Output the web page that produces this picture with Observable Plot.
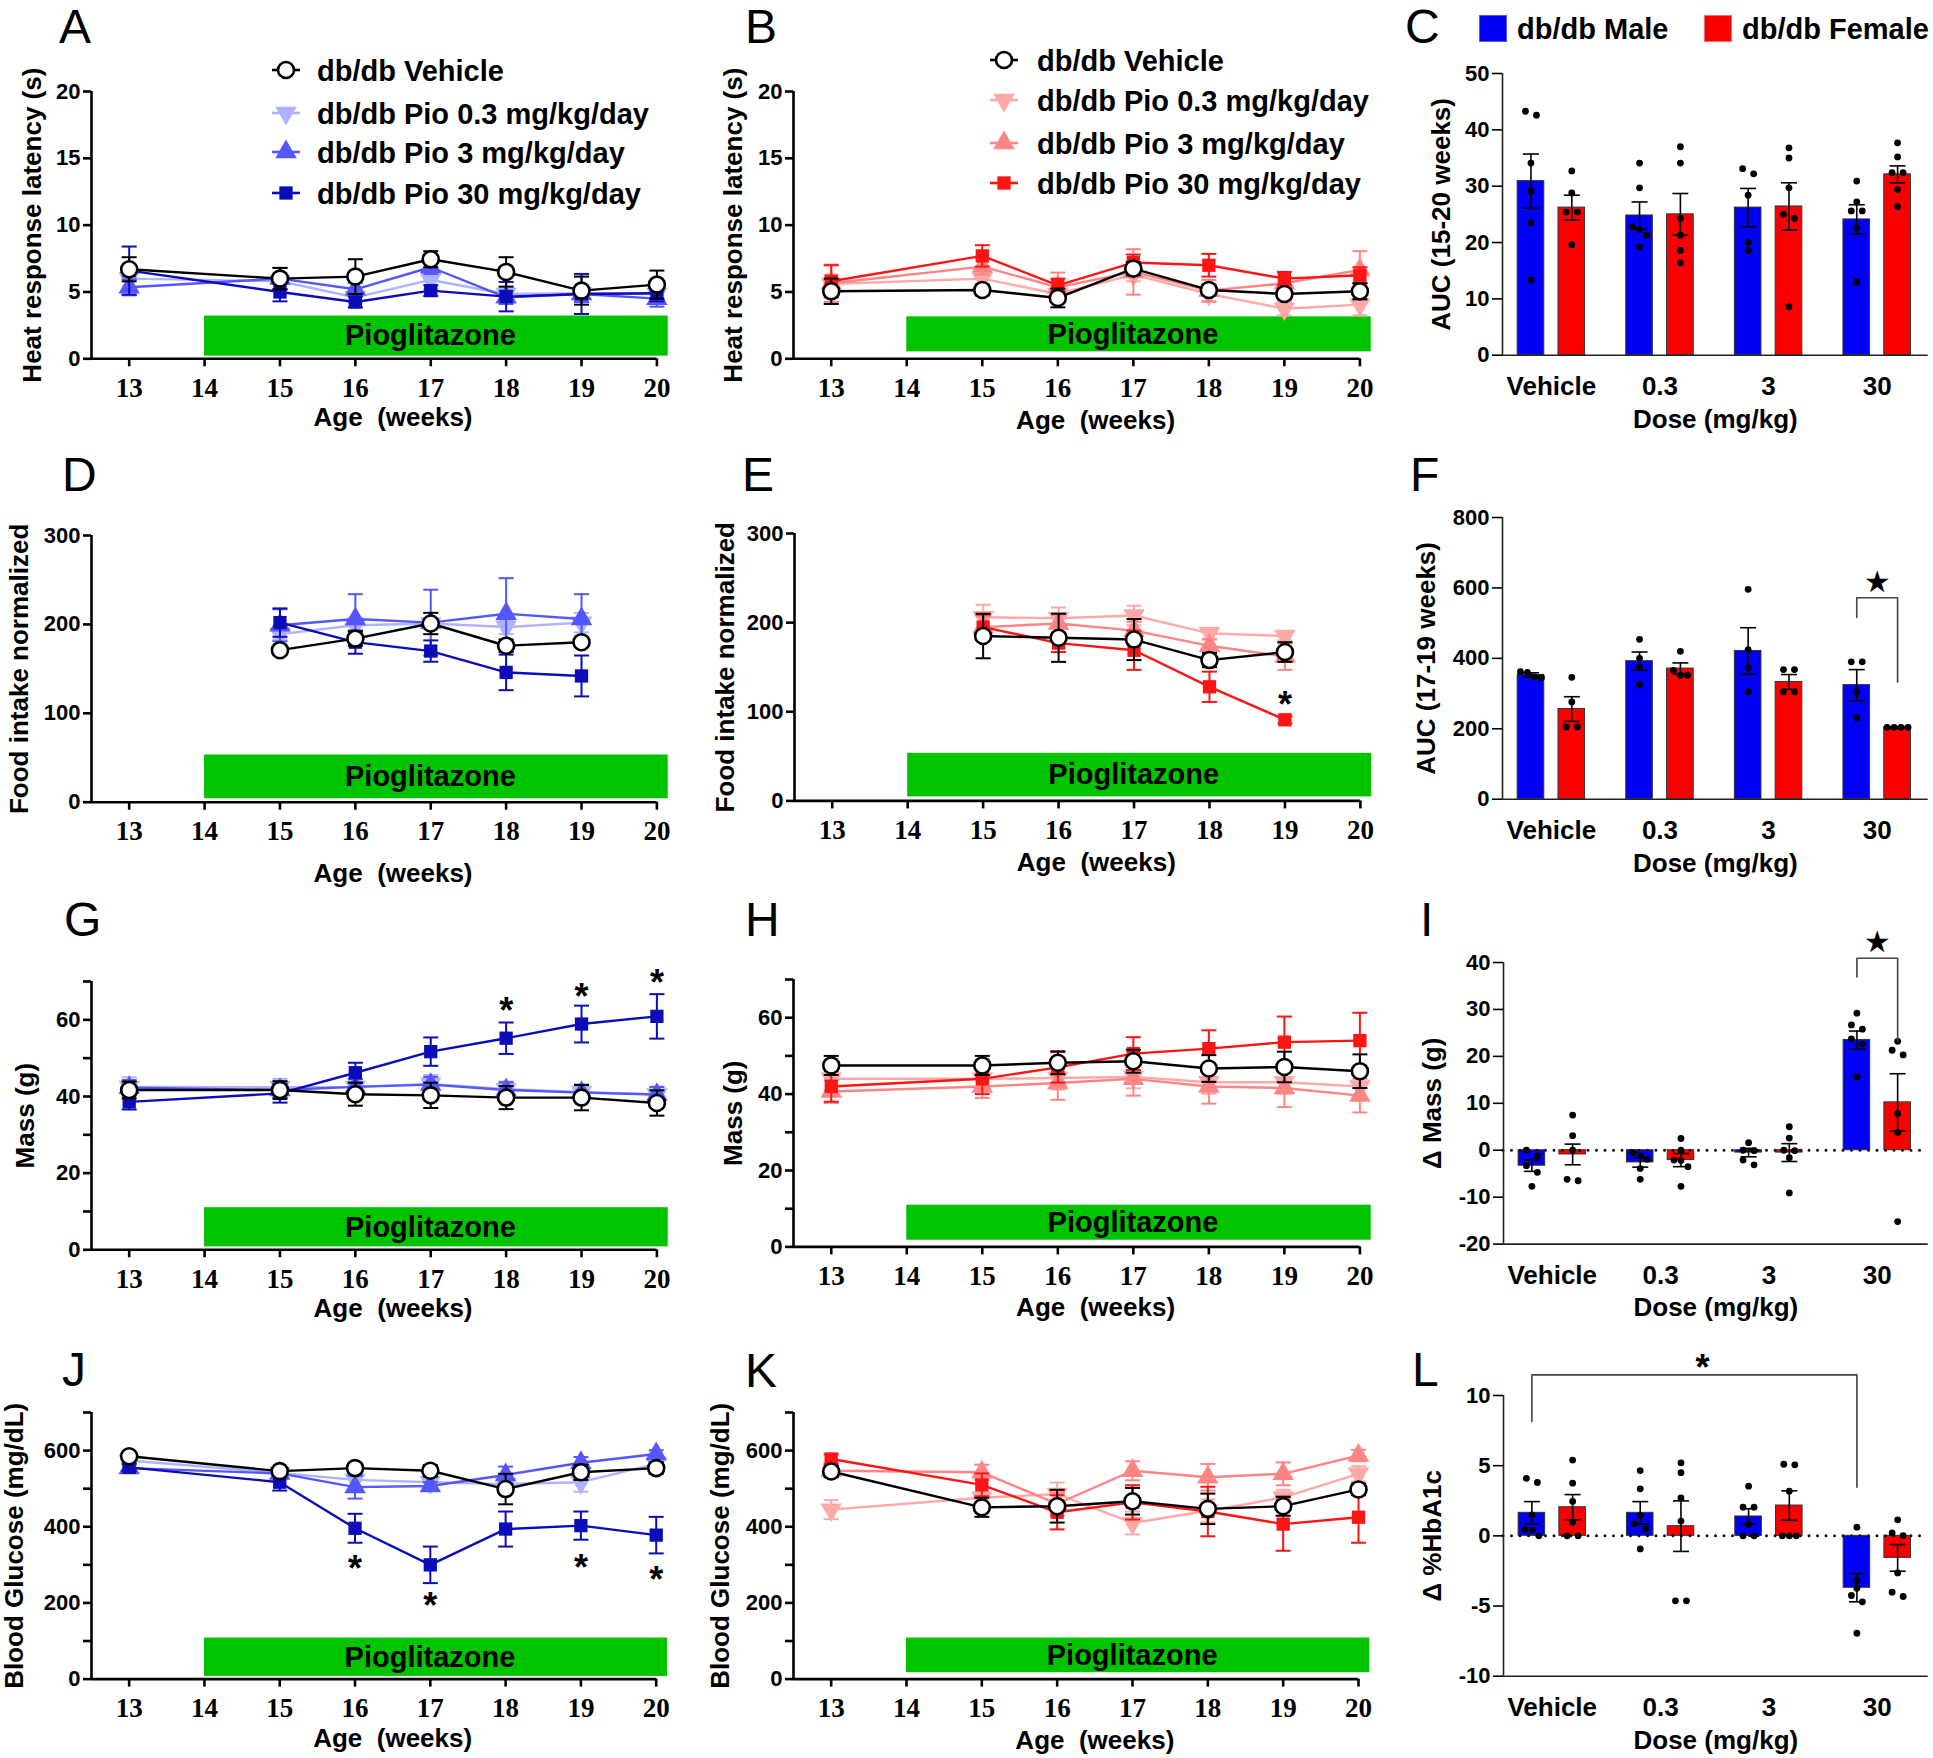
<!DOCTYPE html>
<html><head><meta charset="utf-8">
<script src="https://cdn.jsdelivr.net/npm/d3@7"></script>
<script src="https://cdn.jsdelivr.net/npm/@observablehq/plot@0.6"></script>
<style>
body{margin:0;background:#fff;}
#fig{position:relative;width:1933px;height:1758px;background:#fff;overflow:hidden;font-family:'Liberation Sans',Arial,sans-serif;}
.letter{position:absolute;font-size:48px;line-height:48px;color:#000;font-family:'Liberation Sans',Arial,sans-serif;}
.legtxt{position:absolute;white-space:nowrap;font-weight:bold;line-height:1;color:#000;transform:translateY(-50%);font-family:'Liberation Sans',Arial,sans-serif;}
</style></head><body><div id="fig"></div>
<script>
// ---------------- DATA ----------------
const weeks = [13, 15, 16, 17, 18, 19, 20];
const foodWeeks = [15, 16, 17, 18, 19];
const weekTicks = [13, 14, 15, 16, 17, 18, 19, 20];
const groupNames = ["db/db Vehicle", "db/db Pio 0.3 mg/kg/day", "db/db Pio 3 mg/kg/day", "db/db Pio 30 mg/kg/day"];
const doseLabels = ["Vehicle", "0.3", "3", "30"];
const sexLabels = ["db/db Male", "db/db Female"];
const treatmentSpan = [14, 20.15];
const treatmentLabel = "Pioglitazone";

// rows: Vehicle, 0.3, 3, 30 mg/kg/day
const heatMaleMean = [
  [6.7, 6.0, 6.15, 7.45, 6.5, 5.1, 5.55],
  [6.0, 5.8, 4.6, 5.9, 4.85, 4.9, 4.85],
  [5.35, 6.0, 5.2, 6.85, 4.6, 4.85, 4.5],
  [6.6, 5.0, 4.25, 5.1, 4.65, 4.85, 4.9]];
const heatMaleSem = [
  [0.9, 0.8, 1.3, 0.6, 1.1, 1.05, 1.05],
  [0.6, 0.6, 0.4, 0.7, 0.5, 0.5, 0.5],
  [0.6, 0.8, 0.5, 0.5, 0.5, 0.6, 0.6],
  [1.8, 0.7, 0.4, 0.4, 1.1, 1.5, 0.6]];
const heatFemaleMean = [
  [5.05, 5.15, 4.55, 6.75, 5.15, 4.85, 5.05],
  [5.6, 6.0, 4.85, 6.3, 4.85, 3.75, 4.05],
  [5.65, 6.9, 5.35, 6.5, 5.1, 5.65, 6.65],
  [5.8, 7.7, 5.5, 7.2, 7.0, 6.0, 6.25]];
const heatFemaleSem = [
  [0.95, 0.4, 0.7, 0.5, 0.4, 0.4, 0.6],
  [0.7, 0.6, 0.6, 0.5, 0.6, 0.5, 0.8],
  [1.4, 0.6, 1.1, 1.7, 0.8, 0.5, 1.4],
  [1.2, 0.8, 0.5, 0.6, 0.85, 0.5, 0.6]];

const foodMaleMean = [
  [171, 184, 201, 176, 180],
  [189, 199, 201, 197, 202],
  [199, 206, 202, 212, 206],
  [202, 180, 170, 146, 142]];
const foodMaleSem = [
  [5, 8, 12, 7, 5],
  [6, 8, 6, 8, 11],
  [18, 28, 37, 40, 28],
  [16, 13, 12, 20, 23]];
const foodFemaleMean = [
  [185, 183, 181, 158, 167],
  [206, 205, 208, 188, 185],
  [195, 199, 191, 174, 162],
  [195, 177, 169, 128, 91]];
const foodFemaleSem = [
  [25, 27, 23, 8, 11],
  [14, 12, 11, 6, 5],
  [12, 10, 10, 7, 15],
  [14, 10, 22, 17, 4]];

const massMaleMean = [
  [41.7, 41.7, 40.6, 40.3, 39.7, 39.7, 38.3],
  [42.5, 42.4, 42.5, 43.3, 41.9, 41.2, 40.5],
  [42.3, 41.7, 42.5, 43.1, 41.7, 41.0, 40.5],
  [38.6, 40.8, 46.2, 51.7, 55.2, 58.9, 60.9]];
const massMaleSem = [
  [2.2, 2.3, 3.0, 3.3, 3.0, 3.3, 3.3],
  [2.5, 2.2, 2.0, 2.3, 2.0, 2.0, 2.0],
  [2.0, 2.0, 2.0, 2.0, 2.0, 2.0, 2.0],
  [2.0, 2.4, 2.6, 3.7, 4.1, 4.8, 5.8]];
const massFemaleMean = [
  [47.5, 47.5, 48.2, 48.6, 46.7, 47.1, 46.0],
  [44.0, 44.0, 44.2, 44.5, 43.1, 43.1, 42.0],
  [40.7, 42.0, 42.9, 44.0, 42.0, 41.6, 39.6],
  [42.0, 44.0, 47.0, 50.6, 51.9, 53.6, 54.0]];
const massFemaleSem = [
  [2.5, 2.5, 3.0, 3.0, 3.5, 4.0, 4.4],
  [3, 3, 3, 3, 3, 3, 3],
  [3.0, 3.0, 4.4, 4.4, 4.5, 5.0, 4.4],
  [4.0, 4.0, 4.0, 4.3, 4.8, 6.7, 7.3]];

const glucMaleMean = [
  [585, 546, 554, 547, 499, 543, 554],
  [574, 541, 523, 517, 512, 517, 565],
  [554, 540, 504, 507, 536, 568, 591],
  [556, 517, 396, 300, 394, 403, 378]];
const glucMaleSem = [
  [10, 10, 13, 15, 40, 20, 15],
  [12, 15, 20, 15, 20, 25, 15],
  [10, 15, 30, 10, 22, 15, 10],
  [10, 22, 38, 48, 46, 37, 48]];
const glucFemaleMean = [
  [545, 451, 454, 467, 447, 454, 498],
  [445, 476, 486, 410, 442, 477, 539],
  [547, 543, 460, 547, 530, 539, 587],
  [578, 510, 438, 464, 440, 407, 425]];
const glucFemaleSem = [
  [15, 25, 43, 35, 40, 25, 15],
  [25, 15, 30, 30, 30, 20, 20],
  [15, 20, 30, 25, 35, 30, 15],
  [12, 30, 45, 45, 65, 70, 67]];

// significance asterisks (week, value)
const foodFemaleStarWeeks = [19];
const foodFemaleStarY = [117];
const massMaleStarWeeks = [18, 19, 20];
const massMaleStarY = [64.4, 68.3, 71.8];
const glucMaleStarWeeks = [16, 17, 19, 20];
const glucMaleStarY = [311, 215, 314, 282];

// AUC / delta bar panels: per dose (Vehicle, 0.3, 3, 30)
const aucHeatMeanMale = [30.9, 24.8, 26.2, 24.1];
const aucHeatSemMale = [4.8, 2.4, 3.4, 2.6];
const aucHeatMeanFemale = [26.2, 25.0, 26.4, 32.1];
const aucHeatSemFemale = [2.2, 3.7, 4.2, 1.5];
const aucHeatPtsMale = [[42.6, 43.3, 34.1, 29.1, 23.5, 13.3], [34.1, 29.7, 22.8, 22.3, 21.3, 19.2], [33.1, 32.2, 28.4, 20.0, 18.6], [30.9, 27.2, 25.6, 25.6, 22.6, 13.0]];
const aucHeatPtsFemale = [[32.7, 28.8, 25.4, 25.4, 19.6], [37.0, 34.1, 24.3, 21.3, 18.6, 16.4], [36.8, 35.0, 29.7, 25.0, 24.3, 8.6], [37.7, 35.2, 32.4, 32.4, 29.4, 26.4]];

const aucFoodMeanMale = [353, 392, 421, 324];
const aucFoodSemMale = [6, 26, 66, 44];
const aucFoodMeanFemale = [256, 371, 333, 204];
const aucFoodSemFemale = [35, 16, 21, 2];
const aucFoodPtsMale = [[362, 360, 347, 345], [454, 400, 376, 326], [596, 425, 373, 305], [390, 390, 305, 231]];
const aucFoodPtsFemale = [[346, 276, 205, 205], [420, 366, 352, 352], [368, 368, 305, 305], [204, 204, 204, 204]];
const aucFoodBracket = {doses: [3, 3], sexes: [0, 1], top: 572, legs: [516, 333], star: 617};

const dMassMeanMale = [-3.3, -2.6, -0.5, 23.5];
const dMassSemMale = [1.2, 1.0, 0.9, 1.9];
const dMassMeanFemale = [-0.9, -2.1, -0.5, 10.2];
const dMassSemFemale = [2.2, 1.4, 1.9, 6.1];
const dMassPtsMale = [[0, -1.2, -3.3, -4.7, -7.7], [-0.5, -1.2, -1.9, -3.9, -6.2], [1.6, 0, -0.1, -2.1, -3.1], [29.2, 26.7, 25.8, 23.7, 22.6, 15.6]];
const dMassPtsFemale = [[7.5, 3.1, 0, -6.2, -6.5], [2.5, 0, -2.1, -2.2, -3.5, -7.7], [5.0, 2.6, 0, -0.1, -1.6, -9.1], [23.2, 21.3, 20.3, 7.8, 3.8, -15.2]];
const dMassBracket = {doses: [3, 3], sexes: [0, 1], top: 40.9, legs: [36.9, 23.3], star: 44.3};

const dHbMeanMale = [1.64, 1.64, 1.38, -3.7];
const dHbSemMale = [0.8, 0.8, 0.55, 1.0];
const dHbMeanFemale = [2.04, 0.69, 2.16, -1.57];
const dHbSemFemale = [0.9, 1.8, 1.05, 0.95];
const dHbPtsMale = [[4.1, 3.8, 1.5, 0.45, 0.4, 0], [4.65, 3.35, 1.45, 0.85, 0.5, -0.93], [3.54, 2.04, 2.04, 0.8, 0, 0], [0.62, -3.2, -3.73, -4.25, -4.7, -6.94]];
const dHbPtsFemale = [[5.4, 3.75, 2.45, 0.97, 0, 0], [5.2, 4.5, 2.7, 1.05, -4.63, -4.63], [5.06, 5.1, 3.18, 0, 0, 0], [1.14, 0.21, 0.02, -2.64, -4.01, -4.32]];
const dHbBracket = {doses: [0, 3], sexes: [0, 0], top: 11.47, legs: [8.15, 3.47], star: 12.6};

// ---------------- STYLE ----------------
const SANS = "'Liberation Sans',Arial,sans-serif";
const SERIF = "'Liberation Serif','Times New Roman',serif";
const GREEN = "#00c400";
const maleColors = ["#000000", "#aeb3ff", "#5656ff", "#0c0cb8"];
const femaleColors = ["#000000", "#ffa8a8", "#ff8585", "#ff1414"];
const sexColors = ["#0000f5", "#fa0000"];
const SEX_OFF = 0.188, BAR_HW = 0.1225;
const fig = document.getElementById("fig");
const hyphenFmt = d => String(d);

const capSymbol = {draw(ctx, size) { const w = Math.sqrt(size / Math.PI); ctx.moveTo(-w, 0); ctx.lineTo(w, 0); }};
const invTriangle = {draw(ctx, size) {
  const s3 = Math.sqrt(3); const y = -Math.sqrt(size / (s3 * 3));
  ctx.moveTo(0, -y * 2); ctx.lineTo(-s3 * y, y); ctx.lineTo(s3 * y, y); ctx.closePath(); }};
const groupSymbols = [d3.symbolCircle, invTriangle, d3.symbolTriangle, d3.symbolSquare];
const groupR = [8, 8, 8, 7.5];

const M = {left: 110, right: 40, top: 70, bottom: 95};

function mount(svg, frame) {
  svg.style.position = "absolute";
  svg.style.left = (frame[0] - M.left) + "px";
  svg.style.top = (frame[1] - M.top) + "px";
  fig.appendChild(svg);
}

function tidy(ws, means, sems) {
  const rows = [];
  means.forEach((series, g) => series.forEach((m, i) => rows.push({week: ws[i], group: g, mean: m, sem: sems[g][i]})));
  return rows;
}

function frameSize(frame) {
  const [fx0, fy0, fx1, fy1] = frame;
  const W = Math.round(fx1 - fx0 + M.left + M.right), H = Math.round(fy1 - fy0 + M.top + M.bottom);
  return {width: W, height: H, marginLeft: M.left, marginRight: W - M.left - (fx1 - fx0), marginTop: M.top, marginBottom: H - M.top - (fy1 - fy0)};
}

function linePanel(cfg) {
  const xDomain = [12.5, 20];
  const [y0, y1] = cfg.yDomain;
  const span = y1 - y0;
  const rows = tidy(cfg.weeks, cfg.means, cfg.sems);
  const band = {x1: treatmentSpan[0], x2: treatmentSpan[1], y1: y0 + cfg.bandFrac[0] * span, y2: y0 + cfg.bandFrac[1] * span};
  const marks = [
    Plot.rect([band], {x1: "x1", x2: "x2", y1: "y1", y2: "y2", fill: GREEN}),
    Plot.text([treatmentLabel], {x: () => (band.x1 + band.x2) / 2, y: () => (band.y1 + band.y2) / 2, dx: -6, fontFamily: SANS, fontWeight: "bold", fontSize: 29, fill: "black"})
  ];
  for (const g of [1, 2, 3, 0]) {
    const d = rows.filter(r => r.group === g);
    const col = cfg.colors[g];
    const caps = d.flatMap(r => [{week: r.week, v: r.mean - r.sem}, {week: r.week, v: r.mean + r.sem}]);
    marks.push(
      Plot.line(d, {x: "week", y: "mean", stroke: col, strokeWidth: 2.4}),
      Plot.ruleX(d, {x: "week", y1: r => r.mean - r.sem, y2: r => r.mean + r.sem, stroke: col, strokeWidth: 2}),
      Plot.dot(caps, {x: "week", y: "v", symbol: capSymbol, r: 7.5, stroke: col, strokeWidth: 2, fill: "none"}),
      Plot.dot(d, {x: "week", y: "mean", symbol: groupSymbols[g], r: groupR[g], fill: g === 0 ? "white" : col, stroke: g === 0 ? "black" : "none", strokeWidth: 2.6})
    );
  }
  if (cfg.starWeeks) {
    const st = cfg.starWeeks.map((w, i) => ({week: w, v: cfg.starY[i]}));
    marks.push(Plot.text(st, {x: "week", y: "v", text: () => "*", fontSize: 36, fontWeight: "bold", fontFamily: SANS, dy: 9}));
  }
  marks.push(
    Plot.ruleY([y0], {stroke: "black", strokeWidth: 2.6}),
    Plot.ruleX([xDomain[0]], {stroke: "black", strokeWidth: 2.6}),
    Plot.axisX(weekTicks, {tickSize: 8, tickPadding: 11, tickFormat: hyphenFmt, fontSize: 27, fontWeight: "bold", fontFamily: SERIF, strokeWidth: 2.6, label: null}),
    Plot.axisY(cfg.yTicks, {tickSize: 8, tickPadding: 3, tickFormat: hyphenFmt, fontSize: 22, fontWeight: "bold", fontFamily: SANS, strokeWidth: 2.6, label: null}),
    Plot.text([cfg.title], {frameAnchor: "left", textAnchor: "middle", lineAnchor: "middle", dx: cfg.titleDx, rotate: -90, fontSize: 26, fontWeight: "bold", fontFamily: SANS}),
    Plot.text(["Age  (weeks)"], {x: () => (weekTicks[0] + weekTicks[weekTicks.length - 1]) / 2, frameAnchor: "bottom", lineAnchor: "middle", textAnchor: "middle", dy: cfg.xTitleDy, fontSize: 26, fontWeight: "bold", fontFamily: SANS})
  );
  if (cfg.minor) marks.push(Plot.axisY(cfg.minor, {tickSize: 8, tickFormat: () => "", strokeWidth: 2.6, label: null}));
  const svg = Plot.plot({
    ...frameSize(cfg.frame),
    x: {type: "linear", domain: xDomain},
    y: {type: "linear", domain: cfg.yDomain},
    style: {background: "transparent", overflow: "visible", fontFamily: SANS, maxWidth: "none"},
    marks
  });
  mount(svg, cfg.frame);
}

function dodgePoints(arr, sex, pxPerY, pxPerX) {
  const out = [];
  arr.forEach((vals, dose) => {
    const sorted = vals.slice().sort((a, b) => b - a);
    const clusters = []; let cur = [sorted[0]];
    for (let k = 1; k < sorted.length; k++) {
      if ((cur[cur.length - 1] - sorted[k]) * pxPerY < 7) cur.push(sorted[k]);
      else { clusters.push(cur); cur = [sorted[k]]; }
    }
    clusters.push(cur);
    const xc = dose + (sex ? SEX_OFF : -SEX_OFF);
    clusters.forEach(c => {
      const n = c.length, sp = (n > 2 ? 7 : 11) / pxPerX;
      c.forEach((v, k) => out.push({x: xc + (k - (n - 1) / 2) * sp, y: v}));
    });
  });
  return out;
}

function barPanel(cfg) {
  const [fx0, fy0, fx1, fy1] = cfg.frame;
  const xDomain = [-0.45, 3.47];
  const [y0, y1] = cfg.yDomain;
  const pxPerY = (fy1 - fy0) / (y1 - y0);
  const pxPerX = (fx1 - fx0) / (xDomain[1] - xDomain[0]);
  const bars = [];
  for (let i = 0; i < 4; i++) {
    bars.push({dose: i, sex: 0, mean: cfg.meanM[i], sem: cfg.semM[i]});
    bars.push({dose: i, sex: 1, mean: cfg.meanF[i], sem: cfg.semF[i]});
  }
  const xc = d => d.dose + (d.sex ? SEX_OFF : -SEX_OFF);
  const caps = bars.flatMap(d => [{x: xc(d), y: d.mean - d.sem}, {x: xc(d), y: d.mean + d.sem}]);
  const pts = dodgePoints(cfg.ptsM, 0, pxPerY, pxPerX).concat(dodgePoints(cfg.ptsF, 1, pxPerY, pxPerX));
  const marks = [
    Plot.rect(bars, {x1: d => xc(d) - BAR_HW, x2: d => xc(d) + BAR_HW, y1: () => 0, y2: "mean", fill: d => sexColors[d.sex], stroke: "#333", strokeWidth: 1})
  ];
  if (cfg.zeroLine) marks.push(Plot.ruleY([0], {stroke: "#111", strokeWidth: 3, strokeDasharray: "0 8.5", strokeLinecap: "round"}));
  marks.push(
    Plot.ruleX(bars, {x: xc, y1: d => d.mean - d.sem, y2: d => d.mean + d.sem, stroke: "black", strokeWidth: 1.6}),
    Plot.dot(caps, {x: "x", y: "y", symbol: capSymbol, r: 8, stroke: "black", strokeWidth: 1.6, fill: "none"}),
    Plot.dot(pts, {x: "x", y: "y", r: 3.4, fill: "black"})
  );
  if (cfg.bracket) {
    const b = cfg.bracket;
    const bx = i => b.doses[i] + (b.sexes[i] ? SEX_OFF : -SEX_OFF);
    const path = [{x: bx(0), y: b.legs[0]}, {x: bx(0), y: b.top}, {x: bx(1), y: b.top}, {x: bx(1), y: b.legs[1]}];
    const isAst = cfg.starChar === "*";
    marks.push(
      Plot.line(path, {x: "x", y: "y", stroke: "#444", strokeWidth: 1.6}),
      Plot.text([cfg.starChar], {x: () => (bx(0) + bx(1)) / 2, y: () => b.star, dx: isAst ? 8 : 0, fontSize: isAst ? 36 : 30, fontWeight: "bold", fontFamily: isAst ? SANS : "'DejaVu Sans',sans-serif", dy: isAst ? 9 : 0})
    );
  }
  marks.push(
    Plot.ruleY([y0], {stroke: "#222", strokeWidth: 1.6}),
    Plot.ruleX([xDomain[0]], {stroke: "#222", strokeWidth: 1.6}),
    Plot.axisY(cfg.yTicks, {tickSize: 10, tickPadding: 3, tickFormat: hyphenFmt, fontSize: 22, fontWeight: "bold", fontFamily: SANS, strokeWidth: 1.6, label: null}),
    Plot.axisX([0, 1, 2, 3], {tickSize: 0, tickPadding: 21, tickFormat: i => doseLabels[i], fontSize: 26, fontWeight: "bold", fontFamily: SANS, label: null}),
    Plot.text([cfg.title], {frameAnchor: "left", textAnchor: "middle", lineAnchor: "middle", dx: cfg.titleDx, rotate: -90, fontSize: 26, fontWeight: "bold", fontFamily: SANS}),
    Plot.text(["Dose (mg/kg)"], {frameAnchor: "bottom", lineAnchor: "middle", textAnchor: "middle", dy: 64, fontSize: 26, fontWeight: "bold", fontFamily: SANS})
  );
  const svg = Plot.plot({
    ...frameSize(cfg.frame),
    x: {type: "linear", domain: xDomain},
    y: {type: "linear", domain: cfg.yDomain},
    style: {background: "transparent", overflow: "visible", fontFamily: SANS, maxWidth: "none"},
    marks
  });
  mount(svg, cfg.frame);
}

// ---------------- PANELS ----------------
linePanel({frame: [91.3, 90.7, 656.7, 358], weeks, means: heatMaleMean, sems: heatMaleSem, colors: maleColors, yDomain: [0, 20], yTicks: [0, 5, 10, 15, 20], bandFrac: [0.01, 0.16], title: "Heat response latency (s)", titleDx: -59, xTitleDy: 59});
linePanel({frame: [793, 90.7, 1359.4, 358], weeks, means: heatFemaleMean, sems: heatFemaleSem, colors: femaleColors, yDomain: [0, 20], yTicks: [0, 5, 10, 15, 20], bandFrac: [0.026, 0.157], title: "Heat response latency (s)", titleDx: -60, xTitleDy: 62});
linePanel({frame: [91.3, 535, 656.7, 801.7], weeks: foodWeeks, means: foodMaleMean, sems: foodMaleSem, colors: maleColors, yDomain: [0, 300], yTicks: [0, 100, 200, 300], bandFrac: [0.013, 0.177], title: "Food intake normalized", titleDx: -72, xTitleDy: 71});
linePanel({frame: [793.5, 533.3, 1359.4, 800.7], weeks: foodWeeks, means: foodFemaleMean, sems: foodFemaleSem, colors: femaleColors, yDomain: [0, 300], yTicks: [0, 100, 200, 300], bandFrac: [0.015, 0.178], title: "Food intake normalized", titleDx: -69, xTitleDy: 62, starWeeks: foodFemaleStarWeeks, starY: foodFemaleStarY});
linePanel({frame: [91.3, 980.7, 656.7, 1249], weeks, means: massMaleMean, sems: massMaleSem, colors: maleColors, yDomain: [0, 70], yTicks: [0, 20, 40, 60], minor: [10, 30, 50, 70], bandFrac: [0.011, 0.157], title: "Mass (g)", titleDx: -66, xTitleDy: 59, starWeeks: massMaleStarWeeks, starY: massMaleStarY});
linePanel({frame: [793, 979.3, 1359.4, 1246.7], weeks, means: massFemaleMean, sems: massFemaleSem, colors: femaleColors, yDomain: [0, 70], yTicks: [0, 20, 40, 60], minor: [10, 30, 50, 70], bandFrac: [0.025, 0.156], title: "Mass (g)", titleDx: -60, xTitleDy: 61});
linePanel({frame: [91.3, 1411.7, 656, 1678.3], weeks, means: glucMaleMean, sems: glucMaleSem, colors: maleColors, yDomain: [0, 700], yTicks: [0, 200, 400, 600], minor: [100, 300, 500, 700], bandFrac: [0.01, 0.154], title: "Blood Glucose (mg/dL)", titleDx: -77, xTitleDy: 60, starWeeks: glucMaleStarWeeks, starY: glucMaleStarY});
linePanel({frame: [793, 1411.7, 1358, 1678.3], weeks, means: glucFemaleMean, sems: glucFemaleSem, colors: femaleColors, yDomain: [0, 700], yTicks: [0, 200, 400, 600], minor: [100, 300, 500, 700], bandFrac: [0.024, 0.154], title: "Blood Glucose (mg/dL)", titleDx: -73, xTitleDy: 62});

barPanel({frame: [1502, 73.3, 1927.7, 355], meanM: aucHeatMeanMale, semM: aucHeatSemMale, meanF: aucHeatMeanFemale, semF: aucHeatSemFemale, ptsM: aucHeatPtsMale, ptsF: aucHeatPtsFemale, yDomain: [0, 50], yTicks: [0, 10, 20, 30, 40, 50], title: "AUC (15-20 weeks)", titleDx: -61});
barPanel({frame: [1502, 517.3, 1927.7, 799], meanM: aucFoodMeanMale, semM: aucFoodSemMale, meanF: aucFoodMeanFemale, semF: aucFoodSemFemale, ptsM: aucFoodPtsMale, ptsF: aucFoodPtsFemale, yDomain: [0, 800], yTicks: [0, 200, 400, 600, 800], title: "AUC (17-19 weeks)", titleDx: -76, bracket: aucFoodBracket, starChar: "★"});
barPanel({frame: [1503, 961.7, 1927.7, 1243.3], meanM: dMassMeanMale, semM: dMassSemMale, meanF: dMassMeanFemale, semF: dMassSemFemale, ptsM: dMassPtsMale, ptsF: dMassPtsFemale, yDomain: [-20, 40], yTicks: [-20, -10, 0, 10, 20, 30, 40], title: "Δ Mass (g)", titleDx: -71, zeroLine: true, bracket: dMassBracket, starChar: "★"});
barPanel({frame: [1503, 1395, 1927.7, 1675.7], meanM: dHbMeanMale, semM: dHbSemMale, meanF: dHbMeanFemale, semF: dHbSemFemale, ptsM: dHbPtsMale, ptsF: dHbPtsFemale, yDomain: [-10, 10], yTicks: [-10, -5, 0, 5, 10], title: "Δ %HbA1c", titleDx: -71, zeroLine: true, bracket: dHbBracket, starChar: "*"});

// ---------------- LETTERS ----------------
const letters = [["A", 59, 44], ["B", 745, 44], ["C", 1405, 44], ["D", 62, 492], ["E", 742, 492], ["F", 1410, 492],
  ["G", 64, 937], ["H", 745, 937], ["I", 1420, 937], ["J", 62, 1387], ["K", 745, 1388], ["L", 1412, 1387]];
letters.forEach(([t, x, base]) => {
  const el = document.createElement("div");
  el.className = "letter"; el.textContent = t;
  el.style.left = x + "px"; el.style.top = (base - 41) + "px";
  fig.appendChild(el);
});

// ---------------- LEGENDS ----------------
function legendRow(mx, cy, tx, g, colors) {
  const svg = d3.create("svg").attr("width", 36).attr("height", 24)
    .style("position", "absolute").style("left", (mx - 18) + "px").style("top", (cy - 12) + "px").style("overflow", "visible");
  svg.append("line").attr("x1", 4).attr("x2", 32).attr("y1", 12).attr("y2", 12).attr("stroke", colors[g]).attr("stroke-width", 2.6);
  const r = groupR[g];
  svg.append("path").attr("transform", "translate(18,12)").attr("d", d3.symbol(groupSymbols[g], Math.PI * r * r)())
    .attr("fill", g === 0 ? "white" : colors[g]).attr("stroke", g === 0 ? "black" : "none").attr("stroke-width", 2.6);
  fig.appendChild(svg.node());
  const t = document.createElement("div");
  t.className = "legtxt"; t.textContent = groupNames[g];
  t.style.left = tx + "px"; t.style.top = (cy + 1) + "px"; t.style.fontSize = "29px";
  fig.appendChild(t);
}
[70, 113, 152, 193].forEach((cy, g) => legendRow(286, cy, 317, g, maleColors));
[60, 100, 143, 183].forEach((cy, g) => legendRow(1004, cy, 1037, g, femaleColors));

[[1479, 1517], [1704, 1742]].forEach(([bx, tx], s) => {
  const box = document.createElement("div");
  box.style.cssText = `position:absolute;left:${bx}px;top:15px;width:28px;height:27px;background:${sexColors[s]};box-sizing:border-box;border:1px solid ${s ? "#f66" : "#55f"};`;
  fig.appendChild(box);
  const t = document.createElement("div");
  t.className = "legtxt"; t.textContent = sexLabels[s];
  t.style.left = tx + "px"; t.style.top = "29px"; t.style.fontSize = "29px";
  fig.appendChild(t);
});
</script></body></html>
